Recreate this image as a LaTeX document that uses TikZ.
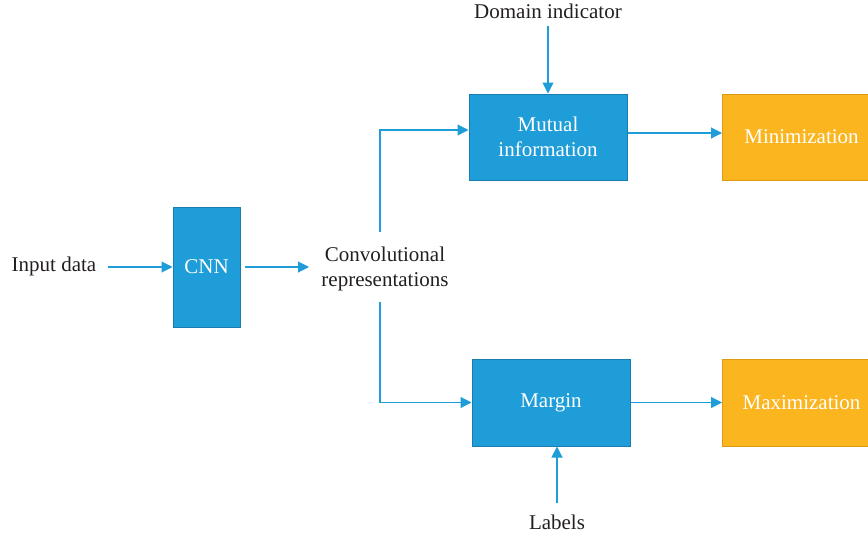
\documentclass[tikz,border=0pt]{standalone}
\usepackage{fontspec}
\setmainfont{Liberation Serif}
\usetikzlibrary{arrows.meta}
\definecolor{bfill}{HTML}{1E9DD8}
\definecolor{bdraw}{HTML}{1A7DB0}
\definecolor{ofill}{HTML}{FBB51F}
\definecolor{odraw}{HTML}{DE9A12}
\definecolor{lcol}{HTML}{1E9DD8}
\definecolor{tcol}{HTML}{231F20}
\begin{document}
\begin{tikzpicture}[x=1pt,y=-1pt,
  every node/.style={font=\fontsize{21}{25}\selectfont, text=tcol},
  bluebox/.style={draw=bdraw, fill=bfill, line width=1pt, text=white, align=center, inner sep=0pt},
  orangebox/.style={draw=odraw, fill=ofill, line width=1pt, text=white, align=center, inner sep=0pt},
  conn/.style={draw=lcol, line width=1.1pt, -{Triangle[length=11pt,width=11pt]}},
  plain/.style={align=center, inner sep=0pt}]
\useasboundingbox (0,0) rectangle (868,538);
\node[plain] (inp) at (54,266) {Input data};
\node[bluebox, minimum width=67pt, minimum height=120pt] (cnn) at (206.5,267) {CNN};
\node[plain] (conv) at (385,269) {Convolutional\\representations};
\node[bluebox, minimum width=158pt, minimum height=86pt] (mi) at (548,137) {Mutual\\information};
\node[orangebox, minimum width=160pt, minimum height=86pt, anchor=west] (mn) at (722,137) {\hspace*{-2pt}Minimization};
\node[bluebox, minimum width=158pt, minimum height=87pt] (mg) at (551,402.5) {Margin};
\node[orangebox, minimum width=160pt, minimum height=87pt, anchor=west] (mx) at (722,402.5) {\hspace*{-2pt}Maximization};
\node[plain] (dom) at (548,11) {Domain indicator};
\node[plain] (lab) at (557,522) {Labels};
\coordinate (ctop) at (380,232);
\coordinate (cbot) at (380,302);
\coordinate (dstart) at (548,26);
\coordinate (lstart) at (557,503);
\coordinate (istart) at (108,267);
\coordinate (cstart) at (245,267);
\coordinate (cend) at (309,267);
\draw[conn] (istart) -- (cnn.west |- istart);
\draw[conn] (cstart) -- (cend);
\draw[conn] (ctop) |- ([yshift=7pt]mi.west);
\draw[conn] (cbot) |- (mg.west);
\draw[conn] (dstart) -- (mi.north);
\draw[conn] (lstart) -- (mg.south -| lstart);
\draw[conn] ([yshift=4pt]mi.east) -- ([yshift=4pt]mn.west |- mi.east);
\draw[conn] (mg.east) -- (mx.west);
\end{tikzpicture}
\end{document}
